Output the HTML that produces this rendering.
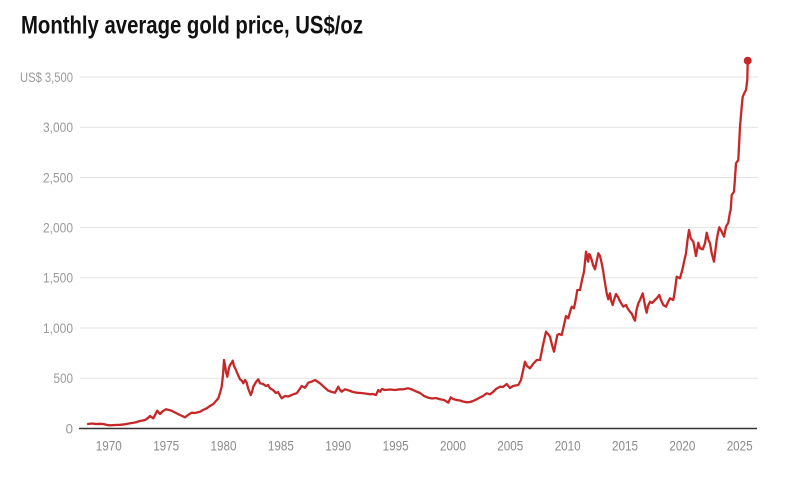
<!DOCTYPE html>
<html>
<head>
<meta charset="utf-8">
<style>
  html, body { margin: 0; padding: 0; background: #ffffff; }
  body { width: 800px; height: 480px; overflow: hidden; }
  svg { display: block; }
  .t { font-family: "Liberation Sans", sans-serif; font-weight: bold; fill: #111; }
  .yl { font-family: "Liberation Sans", sans-serif; fill: #9a9a9a; font-size: 13.5px; }
  .xl { font-family: "Liberation Sans", sans-serif; fill: #8a8a8a; font-size: 14px; }
</style>
</head>
<body>
<svg width="800" height="480" viewBox="0 0 800 480" xmlns="http://www.w3.org/2000/svg">
  <rect width="800" height="480" fill="#ffffff"/>
  <text class="t" x="21" y="33.5" font-size="25" textLength="342" lengthAdjust="spacingAndGlyphs">Monthly average gold price, US$/oz</text>

  <!-- gridlines -->
  <g stroke="#e3e3e3" stroke-width="1">
    <line x1="80" y1="77" x2="758" y2="77"/>
    <line x1="80" y1="127.3" x2="758" y2="127.3"/>
    <line x1="80" y1="177.5" x2="758" y2="177.5"/>
    <line x1="80" y1="227.6" x2="758" y2="227.6"/>
    <line x1="80" y1="277.8" x2="758" y2="277.8"/>
    <line x1="80" y1="328" x2="758" y2="328"/>
    <line x1="80" y1="378.3" x2="758" y2="378.3"/>
  </g>

  <!-- y labels -->
  <g class="yl" text-anchor="end">
    <text x="73" y="81.8" textLength="53" lengthAdjust="spacingAndGlyphs">US$ 3,500</text>
    <text x="73" y="132.1" textLength="30" lengthAdjust="spacingAndGlyphs">3,000</text>
    <text x="73" y="182.3" textLength="30" lengthAdjust="spacingAndGlyphs">2,500</text>
    <text x="73" y="232.4" textLength="30" lengthAdjust="spacingAndGlyphs">2,000</text>
    <text x="73" y="282.6" textLength="30" lengthAdjust="spacingAndGlyphs">1,500</text>
    <text x="73" y="332.8" textLength="30" lengthAdjust="spacingAndGlyphs">1,000</text>
    <text x="73" y="383.1" textLength="19.5" lengthAdjust="spacingAndGlyphs">500</text>
    <text x="73" y="433.3">0</text>
  </g>

  <!-- x axis -->
  <line x1="79" y1="428.5" x2="757" y2="428.5" stroke="#333" stroke-width="1.5"/>
  <g class="xl" text-anchor="middle">
    <text x="108.8" y="450.5" textLength="26" lengthAdjust="spacingAndGlyphs">1970</text>
    <text x="166.2" y="450.5" textLength="26" lengthAdjust="spacingAndGlyphs">1975</text>
    <text x="223.5" y="450.5" textLength="26" lengthAdjust="spacingAndGlyphs">1980</text>
    <text x="280.9" y="450.5" textLength="26" lengthAdjust="spacingAndGlyphs">1985</text>
    <text x="338.2" y="450.5" textLength="26" lengthAdjust="spacingAndGlyphs">1990</text>
    <text x="395.6" y="450.5" textLength="26" lengthAdjust="spacingAndGlyphs">1995</text>
    <text x="453" y="450.5" textLength="26" lengthAdjust="spacingAndGlyphs">2000</text>
    <text x="510.3" y="450.5" textLength="26" lengthAdjust="spacingAndGlyphs">2005</text>
    <text x="567.7" y="450.5" textLength="26" lengthAdjust="spacingAndGlyphs">2010</text>
    <text x="625" y="450.5" textLength="26" lengthAdjust="spacingAndGlyphs">2015</text>
    <text x="682.4" y="450.5" textLength="26" lengthAdjust="spacingAndGlyphs">2020</text>
    <text x="739.7" y="450.5" textLength="26" lengthAdjust="spacingAndGlyphs">2025</text>
  </g>

  <!-- series -->
  <polyline fill="none" stroke="#c62828" stroke-width="2.3" stroke-linejoin="round" stroke-linecap="round"
    points="88,424 92,423.5 96,424 100,423.8 103.3,424 107,425 110,425.3 115,425 120,424.8 125,424.3 130,423.3 135,422.5 140,421 145,420 148,418 150,416 153.3,418.3 157.3,410.7 160,414 163,411 166,409.3 169,410 171.7,410.7 175,412.5 180,415 185,417.3 188,415 191.7,412.7 195,413 200,411.7 203,410 206.7,408.3 210,406 213.3,404 216,401 218.3,398.3 220,393 221.7,386.7 223,375 224,360 225,365 226,371.7 227.3,376.7 229,368 230,365 231.5,363 232.7,360.7 234,366 236,370 238,375 240,379.3 242,381 243.3,383.3 245,380 246.7,382.7 248,388 250.7,395 252,392 253.3,386.7 256,382 258.3,379.3 260,383.3 263,384 266,386 268,385 270,388.3 273,390 276,393 278,392 281.7,398.3 285,396 288,396.5 291.7,395 294,394 296.7,393.3 299,390 301.7,386 305,387.7 308.3,382.7 312,381.5 315,380 318,382 320,383.3 324,387 328.3,390.7 332,392 335,392.7 338.3,386.7 340,390 341.7,391.7 345,389.3 349,390.5 353,392 356.7,392.7 361,393 365,393.5 370,394.3 373,394 376,395 378.3,390 380,391.7 382,389 385,390 390,389.5 395,390 400,389.3 403.3,389.3 408.3,388.3 412,389.5 416.7,391.7 420,393 424,396 428.3,397.7 432,398.5 436,398 440,399.3 444,400 448.3,402.7 450.7,397.3 453,399 456.7,400 460,400.5 463,401.5 466.7,402.3 470,402 473,401 476.7,399.3 480,397.5 483,396 486.7,393.3 490,394.3 493,392 496,389 500,386.7 503,387 506.7,384 510,388 513,386 518.3,385 521,380 525,361.7 527,366 530,368.3 533,364 536.7,360 540,360 543,345 546,331.7 548,334 550,336.7 552,345 554,351.7 557.3,335 559,334 561.7,335 564,325 566,316 568.3,318.3 570,312 571.7,306.7 574,308.3 576,298 577.3,290 580,290 582,280 584,271.7 585,262 586,251.7 587,258 588.3,261.7 589,254 590,255 591.7,260 593,265 595,269.3 596.5,262 598.3,253.3 600,256 601.7,263.3 603,270 604,276.7 605.5,286 606.7,293.3 608.3,299.3 610,293.3 611,300 612.7,305 614,300 616,294 618,297 619.3,300 621,303 623.3,306.7 626,305 628,309 630,311.7 632,314 633.5,318 635,320.7 636.5,310 638.3,303.3 640,300 642.7,293.3 644,300 645.5,308 646.7,312.7 648,306 650,301.7 652,303 655,300 657,298 659.3,295 661,300 663.3,305 666,306.7 668,302 670,298.3 673.3,300 675,290 676.7,276.7 680,278.3 682.7,268.3 684,262 686,253.3 687.5,240 689,230 690.7,238.3 693.3,241.7 696,256 698.3,242.7 700,248.3 702.7,249.3 705,243.3 706.7,232.7 708.5,240 710,243.3 711.7,253.3 714,261.7 716.7,240 718,233 719.3,227.3 721.7,231.7 724,236.7 726,226.7 728.3,222.7 730,212 730.7,210 731.7,195 734,191.7 735,178 736,163.3 738.3,160 740,126.7 741.7,106.7 742.7,96.7 745,91.7 746,90 747.3,80 747.7,60.7"/>
  <circle cx="747.7" cy="60.7" r="4" fill="#c62828"/>
</svg>
</body>
</html>
